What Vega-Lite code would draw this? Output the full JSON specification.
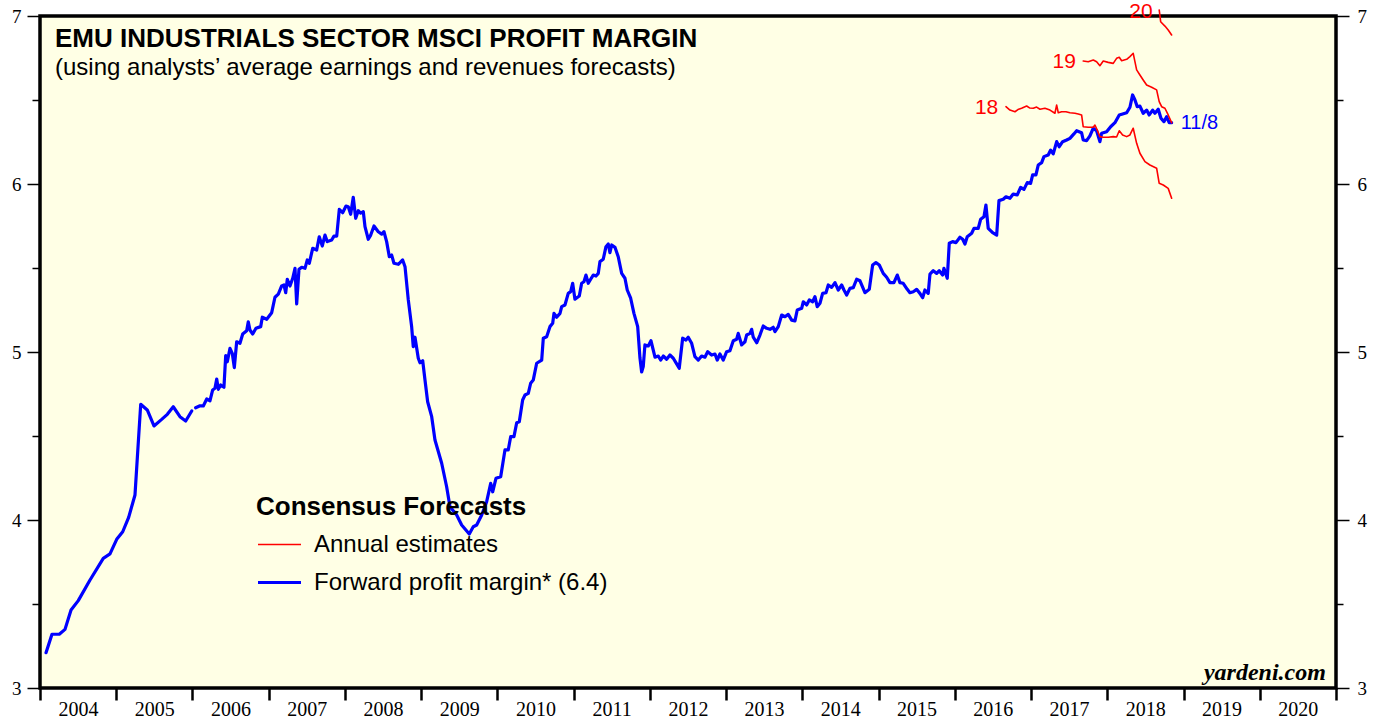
{
"$schema": "https://vega.github.io/schema/vega-lite/v6.json",
"width": 1296,
"height": 672,
"autosize": {"type": "none"},
"padding": {"left": 40, "top": 16, "right": 44, "bottom": 31},
"background": "white",
"config": {"view": {"stroke": "black", "strokeWidth": 3.5, "fill": "#FFFFE5"}, "font": "Liberation Sans"},
"title": {"text": "EMU INDUSTRIALS SECTOR MSCI PROFIT MARGIN", "subtitle": "(using analysts’ average earnings and revenues forecasts)", "anchor": "start", "frame": "group", "orient": "top", "offset": -79, "dx": 15, "font": "Liberation Sans", "fontSize": 26, "fontWeight": "bold", "color": "black", "subtitleFont": "Liberation Sans", "subtitleFontSize": 24, "subtitleColor": "black", "subtitlePadding": 4},
"resolve": {"axis": {"y": "independent"}},
"datasets": {
"lines": [
{"year":2004.079,"value":3.210,"series":"Forward profit margin* (6.4)","seg":"f1"},
{"year":2004.157,"value":3.320,"series":"Forward profit margin* (6.4)","seg":"f1"},
{"year":2004.253,"value":3.320,"series":"Forward profit margin* (6.4)","seg":"f1"},
{"year":2004.328,"value":3.349,"series":"Forward profit margin* (6.4)","seg":"f1"},
{"year":2004.407,"value":3.464,"series":"Forward profit margin* (6.4)","seg":"f1"},
{"year":2004.502,"value":3.520,"series":"Forward profit margin* (6.4)","seg":"f1"},
{"year":2004.656,"value":3.643,"series":"Forward profit margin* (6.4)","seg":"f1"},
{"year":2004.830,"value":3.772,"series":"Forward profit margin* (6.4)","seg":"f1"},
{"year":2004.918,"value":3.798,"series":"Forward profit margin* (6.4)","seg":"f1"},
{"year":2005.006,"value":3.885,"series":"Forward profit margin* (6.4)","seg":"f1"},
{"year":2005.085,"value":3.930,"series":"Forward profit margin* (6.4)","seg":"f1"},
{"year":2005.163,"value":4.016,"series":"Forward profit margin* (6.4)","seg":"f1"},
{"year":2005.246,"value":4.149,"series":"Forward profit margin* (6.4)","seg":"f1"},
{"year":2005.321,"value":4.689,"series":"Forward profit margin* (6.4)","seg":"f1"},
{"year":2005.407,"value":4.655,"series":"Forward profit margin* (6.4)","seg":"f1"},
{"year":2005.495,"value":4.560,"series":"Forward profit margin* (6.4)","seg":"f1"},
{"year":2005.596,"value":4.599,"series":"Forward profit margin* (6.4)","seg":"f1"},
{"year":2005.670,"value":4.629,"series":"Forward profit margin* (6.4)","seg":"f1"},
{"year":2005.748,"value":4.674,"series":"Forward profit margin* (6.4)","seg":"f1"},
{"year":2005.836,"value":4.615,"series":"Forward profit margin* (6.4)","seg":"f1"},
{"year":2005.911,"value":4.589,"series":"Forward profit margin* (6.4)","seg":"f1"},
{"year":2005.990,"value":4.649,"series":"Forward profit margin* (6.4)","seg":"f1"},
{"year":2006.042,"value":4.668,"series":"Forward profit margin* (6.4)","seg":"f2"},
{"year":2006.099,"value":4.680,"series":"Forward profit margin* (6.4)","seg":"f2"},
{"year":2006.142,"value":4.679,"series":"Forward profit margin* (6.4)","seg":"f2"},
{"year":2006.187,"value":4.720,"series":"Forward profit margin* (6.4)","seg":"f2"},
{"year":2006.230,"value":4.710,"series":"Forward profit margin* (6.4)","seg":"f2"},
{"year":2006.265,"value":4.774,"series":"Forward profit margin* (6.4)","seg":"f2"},
{"year":2006.295,"value":4.784,"series":"Forward profit margin* (6.4)","seg":"f2"},
{"year":2006.318,"value":4.839,"series":"Forward profit margin* (6.4)","seg":"f2"},
{"year":2006.339,"value":4.778,"series":"Forward profit margin* (6.4)","seg":"f2"},
{"year":2006.370,"value":4.804,"series":"Forward profit margin* (6.4)","seg":"f2"},
{"year":2006.413,"value":4.790,"series":"Forward profit margin* (6.4)","seg":"f2"},
{"year":2006.436,"value":4.978,"series":"Forward profit margin* (6.4)","seg":"f2"},
{"year":2006.457,"value":4.942,"series":"Forward profit margin* (6.4)","seg":"f2"},
{"year":2006.492,"value":5.022,"series":"Forward profit margin* (6.4)","seg":"f2"},
{"year":2006.522,"value":4.992,"series":"Forward profit margin* (6.4)","seg":"f2"},
{"year":2006.549,"value":4.907,"series":"Forward profit margin* (6.4)","seg":"f2"},
{"year":2006.580,"value":5.061,"series":"Forward profit margin* (6.4)","seg":"f2"},
{"year":2006.623,"value":5.052,"series":"Forward profit margin* (6.4)","seg":"f2"},
{"year":2006.659,"value":5.107,"series":"Forward profit margin* (6.4)","seg":"f2"},
{"year":2006.711,"value":5.127,"series":"Forward profit margin* (6.4)","seg":"f2"},
{"year":2006.732,"value":5.180,"series":"Forward profit margin* (6.4)","seg":"f2"},
{"year":2006.754,"value":5.131,"series":"Forward profit margin* (6.4)","seg":"f2"},
{"year":2006.790,"value":5.107,"series":"Forward profit margin* (6.4)","seg":"f2"},
{"year":2006.833,"value":5.141,"series":"Forward profit margin* (6.4)","seg":"f2"},
{"year":2006.895,"value":5.151,"series":"Forward profit margin* (6.4)","seg":"f2"},
{"year":2006.916,"value":5.207,"series":"Forward profit margin* (6.4)","seg":"f2"},
{"year":2006.974,"value":5.195,"series":"Forward profit margin* (6.4)","seg":"f2"},
{"year":2007.039,"value":5.234,"series":"Forward profit margin* (6.4)","seg":"f2"},
{"year":2007.082,"value":5.326,"series":"Forward profit margin* (6.4)","seg":"f2"},
{"year":2007.126,"value":5.345,"series":"Forward profit margin* (6.4)","seg":"f2"},
{"year":2007.170,"value":5.393,"series":"Forward profit margin* (6.4)","seg":"f2"},
{"year":2007.200,"value":5.399,"series":"Forward profit margin* (6.4)","seg":"f2"},
{"year":2007.223,"value":5.353,"series":"Forward profit margin* (6.4)","seg":"f2"},
{"year":2007.244,"value":5.433,"series":"Forward profit margin* (6.4)","seg":"f2"},
{"year":2007.279,"value":5.393,"series":"Forward profit margin* (6.4)","seg":"f2"},
{"year":2007.315,"value":5.439,"series":"Forward profit margin* (6.4)","seg":"f2"},
{"year":2007.345,"value":5.498,"series":"Forward profit margin* (6.4)","seg":"f2"},
{"year":2007.367,"value":5.286,"series":"Forward profit margin* (6.4)","seg":"f2"},
{"year":2007.397,"value":5.492,"series":"Forward profit margin* (6.4)","seg":"f2"},
{"year":2007.433,"value":5.504,"series":"Forward profit margin* (6.4)","seg":"f2"},
{"year":2007.476,"value":5.498,"series":"Forward profit margin* (6.4)","seg":"f2"},
{"year":2007.506,"value":5.548,"series":"Forward profit margin* (6.4)","seg":"f2"},
{"year":2007.532,"value":5.528,"series":"Forward profit margin* (6.4)","seg":"f2"},
{"year":2007.577,"value":5.617,"series":"Forward profit margin* (6.4)","seg":"f2"},
{"year":2007.629,"value":5.607,"series":"Forward profit margin* (6.4)","seg":"f2"},
{"year":2007.663,"value":5.686,"series":"Forward profit margin* (6.4)","seg":"f2"},
{"year":2007.703,"value":5.631,"series":"Forward profit margin* (6.4)","seg":"f2"},
{"year":2007.738,"value":5.696,"series":"Forward profit margin* (6.4)","seg":"f2"},
{"year":2007.768,"value":5.657,"series":"Forward profit margin* (6.4)","seg":"f2"},
{"year":2007.826,"value":5.667,"series":"Forward profit margin* (6.4)","seg":"f2"},
{"year":2007.856,"value":5.690,"series":"Forward profit margin* (6.4)","seg":"f2"},
{"year":2007.892,"value":5.690,"series":"Forward profit margin* (6.4)","seg":"f2"},
{"year":2007.926,"value":5.849,"series":"Forward profit margin* (6.4)","seg":"f2"},
{"year":2007.970,"value":5.829,"series":"Forward profit margin* (6.4)","seg":"f2"},
{"year":2008.014,"value":5.869,"series":"Forward profit margin* (6.4)","seg":"f2"},
{"year":2008.044,"value":5.865,"series":"Forward profit margin* (6.4)","seg":"f2"},
{"year":2008.075,"value":5.820,"series":"Forward profit margin* (6.4)","seg":"f2"},
{"year":2008.109,"value":5.921,"series":"Forward profit margin* (6.4)","seg":"f2"},
{"year":2008.141,"value":5.796,"series":"Forward profit margin* (6.4)","seg":"f2"},
{"year":2008.175,"value":5.841,"series":"Forward profit margin* (6.4)","seg":"f2"},
{"year":2008.206,"value":5.826,"series":"Forward profit margin* (6.4)","seg":"f2"},
{"year":2008.241,"value":5.835,"series":"Forward profit margin* (6.4)","seg":"f2"},
{"year":2008.263,"value":5.746,"series":"Forward profit margin* (6.4)","seg":"f2"},
{"year":2008.306,"value":5.671,"series":"Forward profit margin* (6.4)","seg":"f2"},
{"year":2008.338,"value":5.696,"series":"Forward profit margin* (6.4)","seg":"f2"},
{"year":2008.381,"value":5.750,"series":"Forward profit margin* (6.4)","seg":"f2"},
{"year":2008.437,"value":5.716,"series":"Forward profit margin* (6.4)","seg":"f2"},
{"year":2008.482,"value":5.702,"series":"Forward profit margin* (6.4)","seg":"f2"},
{"year":2008.512,"value":5.716,"series":"Forward profit margin* (6.4)","seg":"f2"},
{"year":2008.547,"value":5.657,"series":"Forward profit margin* (6.4)","seg":"f2"},
{"year":2008.582,"value":5.567,"series":"Forward profit margin* (6.4)","seg":"f2"},
{"year":2008.613,"value":5.577,"series":"Forward profit margin* (6.4)","seg":"f2"},
{"year":2008.643,"value":5.528,"series":"Forward profit margin* (6.4)","seg":"f2"},
{"year":2008.700,"value":5.522,"series":"Forward profit margin* (6.4)","seg":"f2"},
{"year":2008.757,"value":5.548,"series":"Forward profit margin* (6.4)","seg":"f2"},
{"year":2008.788,"value":5.508,"series":"Forward profit margin* (6.4)","seg":"f2"},
{"year":2008.831,"value":5.310,"series":"Forward profit margin* (6.4)","seg":"f2"},
{"year":2008.875,"value":5.151,"series":"Forward profit margin* (6.4)","seg":"f2"},
{"year":2008.896,"value":5.032,"series":"Forward profit margin* (6.4)","seg":"f2"},
{"year":2008.919,"value":5.088,"series":"Forward profit margin* (6.4)","seg":"f2"},
{"year":2008.962,"value":4.963,"series":"Forward profit margin* (6.4)","seg":"f2"},
{"year":2008.984,"value":4.936,"series":"Forward profit margin* (6.4)","seg":"f2"},
{"year":2009.020,"value":4.948,"series":"Forward profit margin* (6.4)","seg":"f2"},
{"year":2009.050,"value":4.833,"series":"Forward profit margin* (6.4)","seg":"f2"},
{"year":2009.085,"value":4.704,"series":"Forward profit margin* (6.4)","seg":"f2"},
{"year":2009.138,"value":4.615,"series":"Forward profit margin* (6.4)","seg":"f2"},
{"year":2009.181,"value":4.476,"series":"Forward profit margin* (6.4)","seg":"f2"},
{"year":2009.269,"value":4.338,"series":"Forward profit margin* (6.4)","seg":"f2"},
{"year":2009.334,"value":4.198,"series":"Forward profit margin* (6.4)","seg":"f2"},
{"year":2009.378,"value":4.079,"series":"Forward profit margin* (6.4)","seg":"f2"},
{"year":2009.466,"value":4.030,"series":"Forward profit margin* (6.4)","seg":"f2"},
{"year":2009.531,"value":3.970,"series":"Forward profit margin* (6.4)","seg":"f2"},
{"year":2009.631,"value":3.917,"series":"Forward profit margin* (6.4)","seg":"f2"},
{"year":2009.683,"value":3.960,"series":"Forward profit margin* (6.4)","seg":"f2"},
{"year":2009.728,"value":3.970,"series":"Forward profit margin* (6.4)","seg":"f2"},
{"year":2009.794,"value":4.030,"series":"Forward profit margin* (6.4)","seg":"f2"},
{"year":2009.859,"value":4.109,"series":"Forward profit margin* (6.4)","seg":"f2"},
{"year":2009.912,"value":4.218,"series":"Forward profit margin* (6.4)","seg":"f2"},
{"year":2009.938,"value":4.168,"series":"Forward profit margin* (6.4)","seg":"f2"},
{"year":2009.981,"value":4.248,"series":"Forward profit margin* (6.4)","seg":"f2"},
{"year":2010.043,"value":4.258,"series":"Forward profit margin* (6.4)","seg":"f2"},
{"year":2010.099,"value":4.417,"series":"Forward profit margin* (6.4)","seg":"f2"},
{"year":2010.142,"value":4.417,"series":"Forward profit margin* (6.4)","seg":"f2"},
{"year":2010.174,"value":4.496,"series":"Forward profit margin* (6.4)","seg":"f2"},
{"year":2010.217,"value":4.496,"series":"Forward profit margin* (6.4)","seg":"f2"},
{"year":2010.253,"value":4.579,"series":"Forward profit margin* (6.4)","seg":"f2"},
{"year":2010.287,"value":4.585,"series":"Forward profit margin* (6.4)","seg":"f2"},
{"year":2010.331,"value":4.714,"series":"Forward profit margin* (6.4)","seg":"f2"},
{"year":2010.362,"value":4.744,"series":"Forward profit margin* (6.4)","seg":"f2"},
{"year":2010.405,"value":4.754,"series":"Forward profit margin* (6.4)","seg":"f2"},
{"year":2010.436,"value":4.814,"series":"Forward profit margin* (6.4)","seg":"f2"},
{"year":2010.470,"value":4.833,"series":"Forward profit margin* (6.4)","seg":"f2"},
{"year":2010.515,"value":4.933,"series":"Forward profit margin* (6.4)","seg":"f2"},
{"year":2010.581,"value":4.952,"series":"Forward profit margin* (6.4)","seg":"f2"},
{"year":2010.602,"value":5.082,"series":"Forward profit margin* (6.4)","seg":"f2"},
{"year":2010.646,"value":5.091,"series":"Forward profit margin* (6.4)","seg":"f2"},
{"year":2010.689,"value":5.151,"series":"Forward profit margin* (6.4)","seg":"f2"},
{"year":2010.725,"value":5.171,"series":"Forward profit margin* (6.4)","seg":"f2"},
{"year":2010.742,"value":5.230,"series":"Forward profit margin* (6.4)","seg":"f2"},
{"year":2010.777,"value":5.207,"series":"Forward profit margin* (6.4)","seg":"f2"},
{"year":2010.821,"value":5.230,"series":"Forward profit margin* (6.4)","seg":"f2"},
{"year":2010.843,"value":5.270,"series":"Forward profit margin* (6.4)","seg":"f2"},
{"year":2010.886,"value":5.280,"series":"Forward profit margin* (6.4)","seg":"f2"},
{"year":2010.929,"value":5.349,"series":"Forward profit margin* (6.4)","seg":"f2"},
{"year":2010.961,"value":5.359,"series":"Forward profit margin* (6.4)","seg":"f2"},
{"year":2010.987,"value":5.409,"series":"Forward profit margin* (6.4)","seg":"f2"},
{"year":2011.017,"value":5.314,"series":"Forward profit margin* (6.4)","seg":"f2"},
{"year":2011.074,"value":5.333,"series":"Forward profit margin* (6.4)","seg":"f2"},
{"year":2011.105,"value":5.409,"series":"Forward profit margin* (6.4)","seg":"f2"},
{"year":2011.135,"value":5.418,"series":"Forward profit margin* (6.4)","seg":"f2"},
{"year":2011.162,"value":5.458,"series":"Forward profit margin* (6.4)","seg":"f2"},
{"year":2011.192,"value":5.409,"series":"Forward profit margin* (6.4)","seg":"f2"},
{"year":2011.223,"value":5.433,"series":"Forward profit margin* (6.4)","seg":"f2"},
{"year":2011.257,"value":5.458,"series":"Forward profit margin* (6.4)","seg":"f2"},
{"year":2011.293,"value":5.452,"series":"Forward profit margin* (6.4)","seg":"f2"},
{"year":2011.323,"value":5.468,"series":"Forward profit margin* (6.4)","seg":"f2"},
{"year":2011.345,"value":5.538,"series":"Forward profit margin* (6.4)","seg":"f2"},
{"year":2011.388,"value":5.552,"series":"Forward profit margin* (6.4)","seg":"f2"},
{"year":2011.424,"value":5.627,"series":"Forward profit margin* (6.4)","seg":"f2"},
{"year":2011.454,"value":5.643,"series":"Forward profit margin* (6.4)","seg":"f2"},
{"year":2011.476,"value":5.591,"series":"Forward profit margin* (6.4)","seg":"f2"},
{"year":2011.499,"value":5.637,"series":"Forward profit margin* (6.4)","seg":"f2"},
{"year":2011.542,"value":5.623,"series":"Forward profit margin* (6.4)","seg":"f2"},
{"year":2011.585,"value":5.567,"series":"Forward profit margin* (6.4)","seg":"f2"},
{"year":2011.630,"value":5.468,"series":"Forward profit margin* (6.4)","seg":"f2"},
{"year":2011.673,"value":5.439,"series":"Forward profit margin* (6.4)","seg":"f2"},
{"year":2011.703,"value":5.369,"series":"Forward profit margin* (6.4)","seg":"f2"},
{"year":2011.748,"value":5.320,"series":"Forward profit margin* (6.4)","seg":"f2"},
{"year":2011.791,"value":5.230,"series":"Forward profit margin* (6.4)","seg":"f2"},
{"year":2011.840,"value":5.151,"series":"Forward profit margin* (6.4)","seg":"f2"},
{"year":2011.870,"value":4.964,"series":"Forward profit margin* (6.4)","seg":"f2"},
{"year":2011.892,"value":4.881,"series":"Forward profit margin* (6.4)","seg":"f2"},
{"year":2011.913,"value":4.913,"series":"Forward profit margin* (6.4)","seg":"f2"},
{"year":2011.935,"value":5.042,"series":"Forward profit margin* (6.4)","seg":"f2"},
{"year":2011.979,"value":5.036,"series":"Forward profit margin* (6.4)","seg":"f2"},
{"year":2012.014,"value":5.067,"series":"Forward profit margin* (6.4)","seg":"f2"},
{"year":2012.067,"value":4.969,"series":"Forward profit margin* (6.4)","seg":"f2"},
{"year":2012.110,"value":4.976,"series":"Forward profit margin* (6.4)","seg":"f2"},
{"year":2012.141,"value":4.952,"series":"Forward profit margin* (6.4)","seg":"f2"},
{"year":2012.176,"value":4.976,"series":"Forward profit margin* (6.4)","seg":"f2"},
{"year":2012.220,"value":4.957,"series":"Forward profit margin* (6.4)","seg":"f2"},
{"year":2012.263,"value":4.982,"series":"Forward profit margin* (6.4)","seg":"f2"},
{"year":2012.307,"value":4.963,"series":"Forward profit margin* (6.4)","seg":"f2"},
{"year":2012.351,"value":4.929,"series":"Forward profit margin* (6.4)","seg":"f2"},
{"year":2012.385,"value":4.903,"series":"Forward profit margin* (6.4)","seg":"f2"},
{"year":2012.430,"value":5.082,"series":"Forward profit margin* (6.4)","seg":"f2"},
{"year":2012.473,"value":5.071,"series":"Forward profit margin* (6.4)","seg":"f2"},
{"year":2012.503,"value":5.088,"series":"Forward profit margin* (6.4)","seg":"f2"},
{"year":2012.548,"value":5.052,"series":"Forward profit margin* (6.4)","seg":"f2"},
{"year":2012.591,"value":4.972,"series":"Forward profit margin* (6.4)","seg":"f2"},
{"year":2012.635,"value":4.952,"series":"Forward profit margin* (6.4)","seg":"f2"},
{"year":2012.679,"value":4.976,"series":"Forward profit margin* (6.4)","seg":"f2"},
{"year":2012.722,"value":4.969,"series":"Forward profit margin* (6.4)","seg":"f2"},
{"year":2012.758,"value":5.002,"series":"Forward profit margin* (6.4)","seg":"f2"},
{"year":2012.810,"value":4.982,"series":"Forward profit margin* (6.4)","seg":"f2"},
{"year":2012.854,"value":4.988,"series":"Forward profit margin* (6.4)","seg":"f2"},
{"year":2012.884,"value":4.952,"series":"Forward profit margin* (6.4)","seg":"f2"},
{"year":2012.919,"value":4.988,"series":"Forward profit margin* (6.4)","seg":"f2"},
{"year":2012.962,"value":4.952,"series":"Forward profit margin* (6.4)","seg":"f2"},
{"year":2013.007,"value":5.002,"series":"Forward profit margin* (6.4)","seg":"f2"},
{"year":2013.050,"value":5.008,"series":"Forward profit margin* (6.4)","seg":"f2"},
{"year":2013.094,"value":5.067,"series":"Forward profit margin* (6.4)","seg":"f2"},
{"year":2013.138,"value":5.076,"series":"Forward profit margin* (6.4)","seg":"f2"},
{"year":2013.159,"value":5.111,"series":"Forward profit margin* (6.4)","seg":"f2"},
{"year":2013.204,"value":5.042,"series":"Forward profit margin* (6.4)","seg":"f2"},
{"year":2013.247,"value":5.061,"series":"Forward profit margin* (6.4)","seg":"f2"},
{"year":2013.269,"value":5.101,"series":"Forward profit margin* (6.4)","seg":"f2"},
{"year":2013.313,"value":5.111,"series":"Forward profit margin* (6.4)","seg":"f2"},
{"year":2013.335,"value":5.135,"series":"Forward profit margin* (6.4)","seg":"f2"},
{"year":2013.356,"value":5.088,"series":"Forward profit margin* (6.4)","seg":"f2"},
{"year":2013.401,"value":5.055,"series":"Forward profit margin* (6.4)","seg":"f2"},
{"year":2013.444,"value":5.101,"series":"Forward profit margin* (6.4)","seg":"f2"},
{"year":2013.487,"value":5.155,"series":"Forward profit margin* (6.4)","seg":"f2"},
{"year":2013.532,"value":5.141,"series":"Forward profit margin* (6.4)","seg":"f2"},
{"year":2013.575,"value":5.135,"series":"Forward profit margin* (6.4)","seg":"f2"},
{"year":2013.618,"value":5.147,"series":"Forward profit margin* (6.4)","seg":"f2"},
{"year":2013.641,"value":5.121,"series":"Forward profit margin* (6.4)","seg":"f2"},
{"year":2013.684,"value":5.151,"series":"Forward profit margin* (6.4)","seg":"f2"},
{"year":2013.729,"value":5.220,"series":"Forward profit margin* (6.4)","seg":"f2"},
{"year":2013.772,"value":5.210,"series":"Forward profit margin* (6.4)","seg":"f2"},
{"year":2013.815,"value":5.224,"series":"Forward profit margin* (6.4)","seg":"f2"},
{"year":2013.860,"value":5.190,"series":"Forward profit margin* (6.4)","seg":"f2"},
{"year":2013.903,"value":5.185,"series":"Forward profit margin* (6.4)","seg":"f2"},
{"year":2013.933,"value":5.250,"series":"Forward profit margin* (6.4)","seg":"f2"},
{"year":2013.991,"value":5.260,"series":"Forward profit margin* (6.4)","seg":"f2"},
{"year":2014.012,"value":5.299,"series":"Forward profit margin* (6.4)","seg":"f2"},
{"year":2014.056,"value":5.280,"series":"Forward profit margin* (6.4)","seg":"f2"},
{"year":2014.091,"value":5.310,"series":"Forward profit margin* (6.4)","seg":"f2"},
{"year":2014.135,"value":5.299,"series":"Forward profit margin* (6.4)","seg":"f2"},
{"year":2014.165,"value":5.329,"series":"Forward profit margin* (6.4)","seg":"f2"},
{"year":2014.195,"value":5.270,"series":"Forward profit margin* (6.4)","seg":"f2"},
{"year":2014.231,"value":5.290,"series":"Forward profit margin* (6.4)","seg":"f2"},
{"year":2014.266,"value":5.349,"series":"Forward profit margin* (6.4)","seg":"f2"},
{"year":2014.310,"value":5.353,"series":"Forward profit margin* (6.4)","seg":"f2"},
{"year":2014.340,"value":5.399,"series":"Forward profit margin* (6.4)","seg":"f2"},
{"year":2014.384,"value":5.385,"series":"Forward profit margin* (6.4)","seg":"f2"},
{"year":2014.428,"value":5.413,"series":"Forward profit margin* (6.4)","seg":"f2"},
{"year":2014.471,"value":5.369,"series":"Forward profit margin* (6.4)","seg":"f2"},
{"year":2014.516,"value":5.399,"series":"Forward profit margin* (6.4)","seg":"f2"},
{"year":2014.546,"value":5.369,"series":"Forward profit margin* (6.4)","seg":"f2"},
{"year":2014.581,"value":5.339,"series":"Forward profit margin* (6.4)","seg":"f2"},
{"year":2014.624,"value":5.379,"series":"Forward profit margin* (6.4)","seg":"f2"},
{"year":2014.668,"value":5.383,"series":"Forward profit margin* (6.4)","seg":"f2"},
{"year":2014.712,"value":5.433,"series":"Forward profit margin* (6.4)","seg":"f2"},
{"year":2014.756,"value":5.424,"series":"Forward profit margin* (6.4)","seg":"f2"},
{"year":2014.821,"value":5.353,"series":"Forward profit margin* (6.4)","seg":"f2"},
{"year":2014.878,"value":5.373,"series":"Forward profit margin* (6.4)","seg":"f2"},
{"year":2014.922,"value":5.518,"series":"Forward profit margin* (6.4)","seg":"f2"},
{"year":2014.965,"value":5.532,"series":"Forward profit margin* (6.4)","seg":"f2"},
{"year":2015.009,"value":5.518,"series":"Forward profit margin* (6.4)","seg":"f2"},
{"year":2015.061,"value":5.468,"series":"Forward profit margin* (6.4)","seg":"f2"},
{"year":2015.106,"value":5.445,"series":"Forward profit margin* (6.4)","seg":"f2"},
{"year":2015.149,"value":5.413,"series":"Forward profit margin* (6.4)","seg":"f2"},
{"year":2015.201,"value":5.413,"series":"Forward profit margin* (6.4)","seg":"f2"},
{"year":2015.245,"value":5.458,"series":"Forward profit margin* (6.4)","seg":"f2"},
{"year":2015.280,"value":5.413,"series":"Forward profit margin* (6.4)","seg":"f2"},
{"year":2015.323,"value":5.409,"series":"Forward profit margin* (6.4)","seg":"f2"},
{"year":2015.376,"value":5.373,"series":"Forward profit margin* (6.4)","seg":"f2"},
{"year":2015.411,"value":5.353,"series":"Forward profit margin* (6.4)","seg":"f2"},
{"year":2015.455,"value":5.359,"series":"Forward profit margin* (6.4)","seg":"f2"},
{"year":2015.499,"value":5.373,"series":"Forward profit margin* (6.4)","seg":"f2"},
{"year":2015.542,"value":5.349,"series":"Forward profit margin* (6.4)","seg":"f2"},
{"year":2015.578,"value":5.323,"series":"Forward profit margin* (6.4)","seg":"f2"},
{"year":2015.608,"value":5.369,"series":"Forward profit margin* (6.4)","seg":"f2"},
{"year":2015.651,"value":5.349,"series":"Forward profit margin* (6.4)","seg":"f2"},
{"year":2015.674,"value":5.464,"series":"Forward profit margin* (6.4)","seg":"f2"},
{"year":2015.717,"value":5.484,"series":"Forward profit margin* (6.4)","seg":"f2"},
{"year":2015.762,"value":5.468,"series":"Forward profit margin* (6.4)","seg":"f2"},
{"year":2015.796,"value":5.484,"series":"Forward profit margin* (6.4)","seg":"f2"},
{"year":2015.840,"value":5.458,"series":"Forward profit margin* (6.4)","seg":"f2"},
{"year":2015.857,"value":5.498,"series":"Forward profit margin* (6.4)","seg":"f2"},
{"year":2015.901,"value":5.439,"series":"Forward profit margin* (6.4)","seg":"f2"},
{"year":2015.927,"value":5.647,"series":"Forward profit margin* (6.4)","seg":"f2"},
{"year":2015.971,"value":5.657,"series":"Forward profit margin* (6.4)","seg":"f2"},
{"year":2016.015,"value":5.651,"series":"Forward profit margin* (6.4)","seg":"f2"},
{"year":2016.067,"value":5.683,"series":"Forward profit margin* (6.4)","seg":"f2"},
{"year":2016.103,"value":5.671,"series":"Forward profit margin* (6.4)","seg":"f2"},
{"year":2016.133,"value":5.643,"series":"Forward profit margin* (6.4)","seg":"f2"},
{"year":2016.163,"value":5.686,"series":"Forward profit margin* (6.4)","seg":"f2"},
{"year":2016.221,"value":5.707,"series":"Forward profit margin* (6.4)","seg":"f2"},
{"year":2016.251,"value":5.736,"series":"Forward profit margin* (6.4)","seg":"f2"},
{"year":2016.307,"value":5.736,"series":"Forward profit margin* (6.4)","seg":"f2"},
{"year":2016.339,"value":5.790,"series":"Forward profit margin* (6.4)","seg":"f2"},
{"year":2016.382,"value":5.805,"series":"Forward profit margin* (6.4)","seg":"f2"},
{"year":2016.408,"value":5.875,"series":"Forward profit margin* (6.4)","seg":"f2"},
{"year":2016.438,"value":5.736,"series":"Forward profit margin* (6.4)","seg":"f2"},
{"year":2016.496,"value":5.710,"series":"Forward profit margin* (6.4)","seg":"f2"},
{"year":2016.549,"value":5.696,"series":"Forward profit margin* (6.4)","seg":"f2"},
{"year":2016.579,"value":5.901,"series":"Forward profit margin* (6.4)","seg":"f2"},
{"year":2016.635,"value":5.909,"series":"Forward profit margin* (6.4)","seg":"f2"},
{"year":2016.671,"value":5.924,"series":"Forward profit margin* (6.4)","seg":"f2"},
{"year":2016.723,"value":5.915,"series":"Forward profit margin* (6.4)","seg":"f2"},
{"year":2016.766,"value":5.940,"series":"Forward profit margin* (6.4)","seg":"f2"},
{"year":2016.819,"value":5.935,"series":"Forward profit margin* (6.4)","seg":"f2"},
{"year":2016.863,"value":5.980,"series":"Forward profit margin* (6.4)","seg":"f2"},
{"year":2016.907,"value":5.968,"series":"Forward profit margin* (6.4)","seg":"f2"},
{"year":2016.950,"value":6.008,"series":"Forward profit margin* (6.4)","seg":"f2"},
{"year":2016.994,"value":6.004,"series":"Forward profit margin* (6.4)","seg":"f2"},
{"year":2017.021,"value":6.054,"series":"Forward profit margin* (6.4)","seg":"f2"},
{"year":2017.064,"value":6.054,"series":"Forward profit margin* (6.4)","seg":"f2"},
{"year":2017.094,"value":6.113,"series":"Forward profit margin* (6.4)","seg":"f2"},
{"year":2017.139,"value":6.127,"series":"Forward profit margin* (6.4)","seg":"f2"},
{"year":2017.169,"value":6.163,"series":"Forward profit margin* (6.4)","seg":"f2"},
{"year":2017.225,"value":6.173,"series":"Forward profit margin* (6.4)","seg":"f2"},
{"year":2017.257,"value":6.202,"series":"Forward profit margin* (6.4)","seg":"f2"},
{"year":2017.291,"value":6.179,"series":"Forward profit margin* (6.4)","seg":"f2"},
{"year":2017.336,"value":6.252,"series":"Forward profit margin* (6.4)","seg":"f2"},
{"year":2017.370,"value":6.222,"series":"Forward profit margin* (6.4)","seg":"f2"},
{"year":2017.414,"value":6.252,"series":"Forward profit margin* (6.4)","seg":"f2"},
{"year":2017.467,"value":6.262,"series":"Forward profit margin* (6.4)","seg":"f2"},
{"year":2017.510,"value":6.272,"series":"Forward profit margin* (6.4)","seg":"f2"},
{"year":2017.562,"value":6.298,"series":"Forward profit margin* (6.4)","seg":"f2"},
{"year":2017.598,"value":6.317,"series":"Forward profit margin* (6.4)","seg":"f2"},
{"year":2017.663,"value":6.305,"series":"Forward profit margin* (6.4)","seg":"f2"},
{"year":2017.684,"value":6.262,"series":"Forward profit margin* (6.4)","seg":"f2"},
{"year":2017.729,"value":6.258,"series":"Forward profit margin* (6.4)","seg":"f2"},
{"year":2017.772,"value":6.286,"series":"Forward profit margin* (6.4)","seg":"f2"},
{"year":2017.816,"value":6.332,"series":"Forward profit margin* (6.4)","seg":"f2"},
{"year":2017.860,"value":6.317,"series":"Forward profit margin* (6.4)","seg":"f2"},
{"year":2017.903,"value":6.252,"series":"Forward profit margin* (6.4)","seg":"f2"},
{"year":2017.926,"value":6.302,"series":"Forward profit margin* (6.4)","seg":"f2"},
{"year":2017.991,"value":6.311,"series":"Forward profit margin* (6.4)","seg":"f2"},
{"year":2018.044,"value":6.341,"series":"Forward profit margin* (6.4)","seg":"f2"},
{"year":2018.100,"value":6.365,"series":"Forward profit margin* (6.4)","seg":"f2"},
{"year":2018.157,"value":6.411,"series":"Forward profit margin* (6.4)","seg":"f2"},
{"year":2018.201,"value":6.417,"series":"Forward profit margin* (6.4)","seg":"f2"},
{"year":2018.254,"value":6.424,"series":"Forward profit margin* (6.4)","seg":"f2"},
{"year":2018.297,"value":6.457,"series":"Forward profit margin* (6.4)","seg":"f2"},
{"year":2018.332,"value":6.530,"series":"Forward profit margin* (6.4)","seg":"f2"},
{"year":2018.363,"value":6.500,"series":"Forward profit margin* (6.4)","seg":"f2"},
{"year":2018.393,"value":6.460,"series":"Forward profit margin* (6.4)","seg":"f2"},
{"year":2018.428,"value":6.464,"series":"Forward profit margin* (6.4)","seg":"f2"},
{"year":2018.471,"value":6.421,"series":"Forward profit margin* (6.4)","seg":"f2"},
{"year":2018.516,"value":6.440,"series":"Forward profit margin* (6.4)","seg":"f2"},
{"year":2018.550,"value":6.411,"series":"Forward profit margin* (6.4)","seg":"f2"},
{"year":2018.595,"value":6.440,"series":"Forward profit margin* (6.4)","seg":"f2"},
{"year":2018.625,"value":6.421,"series":"Forward profit margin* (6.4)","seg":"f2"},
{"year":2018.668,"value":6.445,"series":"Forward profit margin* (6.4)","seg":"f2"},
{"year":2018.704,"value":6.391,"series":"Forward profit margin* (6.4)","seg":"f2"},
{"year":2018.743,"value":6.371,"series":"Forward profit margin* (6.4)","seg":"f2"},
{"year":2018.778,"value":6.401,"series":"Forward profit margin* (6.4)","seg":"f2"},
{"year":2018.812,"value":6.365,"series":"Forward profit margin* (6.4)","seg":"f2"},
{"year":2018.844,"value":6.365,"series":"Forward profit margin* (6.4)","seg":"f2"},
{"year":2016.671,"value":6.460,"series":"Annual estimates","seg":"e18"},
{"year":2016.723,"value":6.440,"series":"Annual estimates","seg":"e18"},
{"year":2016.789,"value":6.430,"series":"Annual estimates","seg":"e18"},
{"year":2016.828,"value":6.443,"series":"Annual estimates","seg":"e18"},
{"year":2016.876,"value":6.451,"series":"Annual estimates","seg":"e18"},
{"year":2016.942,"value":6.464,"series":"Annual estimates","seg":"e18"},
{"year":2016.985,"value":6.452,"series":"Annual estimates","seg":"e18"},
{"year":2017.029,"value":6.451,"series":"Annual estimates","seg":"e18"},
{"year":2017.073,"value":6.458,"series":"Annual estimates","seg":"e18"},
{"year":2017.117,"value":6.445,"series":"Annual estimates","seg":"e18"},
{"year":2017.182,"value":6.451,"series":"Annual estimates","seg":"e18"},
{"year":2017.248,"value":6.440,"series":"Annual estimates","seg":"e18"},
{"year":2017.313,"value":6.421,"series":"Annual estimates","seg":"e18"},
{"year":2017.336,"value":6.470,"series":"Annual estimates","seg":"e18"},
{"year":2017.357,"value":6.424,"series":"Annual estimates","seg":"e18"},
{"year":2017.401,"value":6.430,"series":"Annual estimates","seg":"e18"},
{"year":2017.458,"value":6.430,"series":"Annual estimates","seg":"e18"},
{"year":2017.510,"value":6.424,"series":"Annual estimates","seg":"e18"},
{"year":2017.576,"value":6.421,"series":"Annual estimates","seg":"e18"},
{"year":2017.619,"value":6.417,"series":"Annual estimates","seg":"e18"},
{"year":2017.663,"value":6.411,"series":"Annual estimates","seg":"e18"},
{"year":2017.684,"value":6.341,"series":"Annual estimates","seg":"e18"},
{"year":2017.750,"value":6.338,"series":"Annual estimates","seg":"e18"},
{"year":2017.816,"value":6.338,"series":"Annual estimates","seg":"e18"},
{"year":2017.838,"value":6.351,"series":"Annual estimates","seg":"e18"},
{"year":2017.868,"value":6.321,"series":"Annual estimates","seg":"e18"},
{"year":2017.903,"value":6.282,"series":"Annual estimates","seg":"e18"},
{"year":2017.947,"value":6.278,"series":"Annual estimates","seg":"e18"},
{"year":2018.012,"value":6.278,"series":"Annual estimates","seg":"e18"},
{"year":2018.078,"value":6.282,"series":"Annual estimates","seg":"e18"},
{"year":2018.122,"value":6.280,"series":"Annual estimates","seg":"e18"},
{"year":2018.157,"value":6.317,"series":"Annual estimates","seg":"e18"},
{"year":2018.201,"value":6.292,"series":"Annual estimates","seg":"e18"},
{"year":2018.254,"value":6.282,"series":"Annual estimates","seg":"e18"},
{"year":2018.297,"value":6.292,"series":"Annual estimates","seg":"e18"},
{"year":2018.340,"value":6.332,"series":"Annual estimates","seg":"e18"},
{"year":2018.385,"value":6.242,"series":"Annual estimates","seg":"e18"},
{"year":2018.428,"value":6.183,"series":"Annual estimates","seg":"e18"},
{"year":2018.494,"value":6.133,"series":"Annual estimates","seg":"e18"},
{"year":2018.559,"value":6.113,"series":"Annual estimates","seg":"e18"},
{"year":2018.647,"value":6.094,"series":"Annual estimates","seg":"e18"},
{"year":2018.681,"value":6.004,"series":"Annual estimates","seg":"e18"},
{"year":2018.734,"value":5.994,"series":"Annual estimates","seg":"e18"},
{"year":2018.799,"value":5.974,"series":"Annual estimates","seg":"e18"},
{"year":2018.844,"value":5.915,"series":"Annual estimates","seg":"e18"},
{"year":2017.684,"value":6.732,"series":"Annual estimates","seg":"e19"},
{"year":2017.750,"value":6.728,"series":"Annual estimates","seg":"e19"},
{"year":2017.816,"value":6.738,"series":"Annual estimates","seg":"e19"},
{"year":2017.860,"value":6.728,"series":"Annual estimates","seg":"e19"},
{"year":2017.903,"value":6.704,"series":"Annual estimates","seg":"e19"},
{"year":2017.947,"value":6.732,"series":"Annual estimates","seg":"e19"},
{"year":2018.012,"value":6.724,"series":"Annual estimates","seg":"e19"},
{"year":2018.078,"value":6.718,"series":"Annual estimates","seg":"e19"},
{"year":2018.122,"value":6.748,"series":"Annual estimates","seg":"e19"},
{"year":2018.157,"value":6.754,"series":"Annual estimates","seg":"e19"},
{"year":2018.188,"value":6.734,"series":"Annual estimates","seg":"e19"},
{"year":2018.254,"value":6.742,"series":"Annual estimates","seg":"e19"},
{"year":2018.297,"value":6.758,"series":"Annual estimates","seg":"e19"},
{"year":2018.340,"value":6.778,"series":"Annual estimates","seg":"e19"},
{"year":2018.385,"value":6.679,"series":"Annual estimates","seg":"e19"},
{"year":2018.428,"value":6.649,"series":"Annual estimates","seg":"e19"},
{"year":2018.471,"value":6.619,"series":"Annual estimates","seg":"e19"},
{"year":2018.516,"value":6.589,"series":"Annual estimates","seg":"e19"},
{"year":2018.582,"value":6.576,"series":"Annual estimates","seg":"e19"},
{"year":2018.647,"value":6.560,"series":"Annual estimates","seg":"e19"},
{"year":2018.681,"value":6.490,"series":"Annual estimates","seg":"e19"},
{"year":2018.713,"value":6.460,"series":"Annual estimates","seg":"e19"},
{"year":2018.756,"value":6.451,"series":"Annual estimates","seg":"e19"},
{"year":2018.799,"value":6.411,"series":"Annual estimates","seg":"e19"},
{"year":2018.844,"value":6.365,"series":"Annual estimates","seg":"e19"},
{"year":2018.681,"value":7.036,"series":"Annual estimates","seg":"e20"},
{"year":2018.700,"value":6.966,"series":"Annual estimates","seg":"e20"},
{"year":2018.756,"value":6.940,"series":"Annual estimates","seg":"e20"},
{"year":2018.799,"value":6.917,"series":"Annual estimates","seg":"e20"},
{"year":2018.844,"value":6.887,"series":"Annual estimates","seg":"e20"}
],
"redlabels": [
{"year":2016.570,"value":6.455,"label":"18"},
{"year":2017.589,"value":6.729,"label":"19"},
{"year":2018.595,"value":7.025,"label":"20"}
],
"bluelabel": [{"year":2018.962,"value":6.361,"label":"11/8"}],
"credit": [{"year":2020.868,"value":3.048,"label":"yardeni.com"}]
},
"layer": [
{
"data": {"name": "lines"},
"mark": {"type": "line", "strokeJoin": "round", "strokeCap": "round"},
"encoding": {
"x": {"field": "year", "type": "quantitative", "scale": {"domain": [2004, 2021], "nice": false, "zero": false},
"axis": {"orient": "bottom", "values": [2004,2005,2006,2007,2008,2009,2010,2011,2012,2013,2014,2015,2016,2017,2018,2019,2020,2021], "labelExpr": "datum.value == 2021 ? '' : '' + datum.value", "labelOffset": 38, "labelFlush": false, "labelBound": false, "labelOverlap": false, "tickSize": 12, "tickWidth": 2.5, "tickColor": "black", "domain": false, "grid": false, "title": null, "labelFont": "Liberation Serif", "labelFontSize": 20, "labelColor": "black", "labelPadding": -1}},
"y": {"field": "value", "type": "quantitative", "scale": {"domain": [3, 7], "nice": false, "zero": false},
"axis": {"orient": "left", "values": [3,3.5,4,4.5,5,5.5,6,6.5,7], "labelExpr": "datum.value % 1 == 0 ? '' + datum.value : ''", "tickSize": {"condition": {"test": "datum.value % 1 == 0", "value": 13}, "value": 8}, "tickWidth": 1.5, "tickColor": "black", "domain": false, "grid": false, "title": null, "labelFont": "Liberation Serif", "labelFontSize": 19, "labelColor": "black", "labelPadding": 6, "labelFlush": false, "labelBound": false, "labelOverlap": false}},
"color": {"field": "series", "type": "nominal", "scale": {"domain": ["Annual estimates", "Forward profit margin* (6.4)"], "range": ["#FF0000", "#0000FF"]},
"legend": {"title": "Consensus Forecasts", "orient": "none", "legendX": 216, "legendY": 478, "symbolType": "stroke", "symbolSize": 1849, "titleFont": "Liberation Sans", "titleFontSize": 26, "titleFontWeight": "bold", "titleColor": "black", "titlePadding": 2, "titleLimit": 800, "labelFont": "Liberation Sans", "labelFontSize": 24, "labelColor": "black", "labelOffset": 11, "labelLimit": 800, "rowPadding": 2, "padding": 0}},
"strokeWidth": {"field": "series", "type": "nominal", "scale": {"domain": ["Annual estimates", "Forward profit margin* (6.4)"], "range": [1.6, 3.2]},
"legend": {"title": "Consensus Forecasts", "orient": "none", "legendX": 216, "legendY": 478, "symbolType": "stroke", "symbolSize": 1849, "titleFont": "Liberation Sans", "titleFontSize": 26, "titleFontWeight": "bold", "titleColor": "black", "titlePadding": 2, "titleLimit": 800, "labelFont": "Liberation Sans", "labelFontSize": 24, "labelColor": "black", "labelOffset": 11, "labelLimit": 800, "rowPadding": 2, "padding": 0}},
"detail": {"field": "seg", "type": "nominal"}
}
},
{
"data": {"name": "redlabels"},
"mark": {"type": "text", "align": "right", "baseline": "middle", "color": "#FF0000", "font": "Liberation Sans", "fontSize": 21},
"encoding": {
"x": {"field": "year", "type": "quantitative"},
"y": {"field": "value", "type": "quantitative",
"axis": {"orient": "right", "values": [3,3.5,4,4.5,5,5.5,6,6.5,7], "labelExpr": "datum.value % 1 == 0 ? '' + datum.value : ''", "tickSize": {"condition": {"test": "datum.value % 1 == 0", "value": 13}, "value": 7}, "tickWidth": 1.5, "tickColor": "black", "domain": false, "grid": false, "title": null, "labelFont": "Liberation Serif", "labelFontSize": 19, "labelColor": "black", "labelPadding": 8, "labelFlush": false, "labelBound": false, "labelOverlap": false}},
"text": {"field": "label", "type": "nominal"}
}
},
{
"data": {"name": "bluelabel"},
"mark": {"type": "text", "align": "left", "baseline": "middle", "color": "#0000FF", "font": "Liberation Sans", "fontSize": 20},
"encoding": {
"x": {"field": "year", "type": "quantitative"},
"y": {"field": "value", "type": "quantitative", "axis": null},
"text": {"field": "label", "type": "nominal"}
}
},
{
"data": {"name": "credit"},
"mark": {"type": "text", "align": "right", "baseline": "alphabetic", "color": "black", "font": "Liberation Serif", "fontStyle": "italic", "fontWeight": "bold", "fontSize": 24},
"encoding": {
"x": {"field": "year", "type": "quantitative"},
"y": {"field": "value", "type": "quantitative", "axis": null},
"text": {"field": "label", "type": "nominal"}
}
}
]
}
